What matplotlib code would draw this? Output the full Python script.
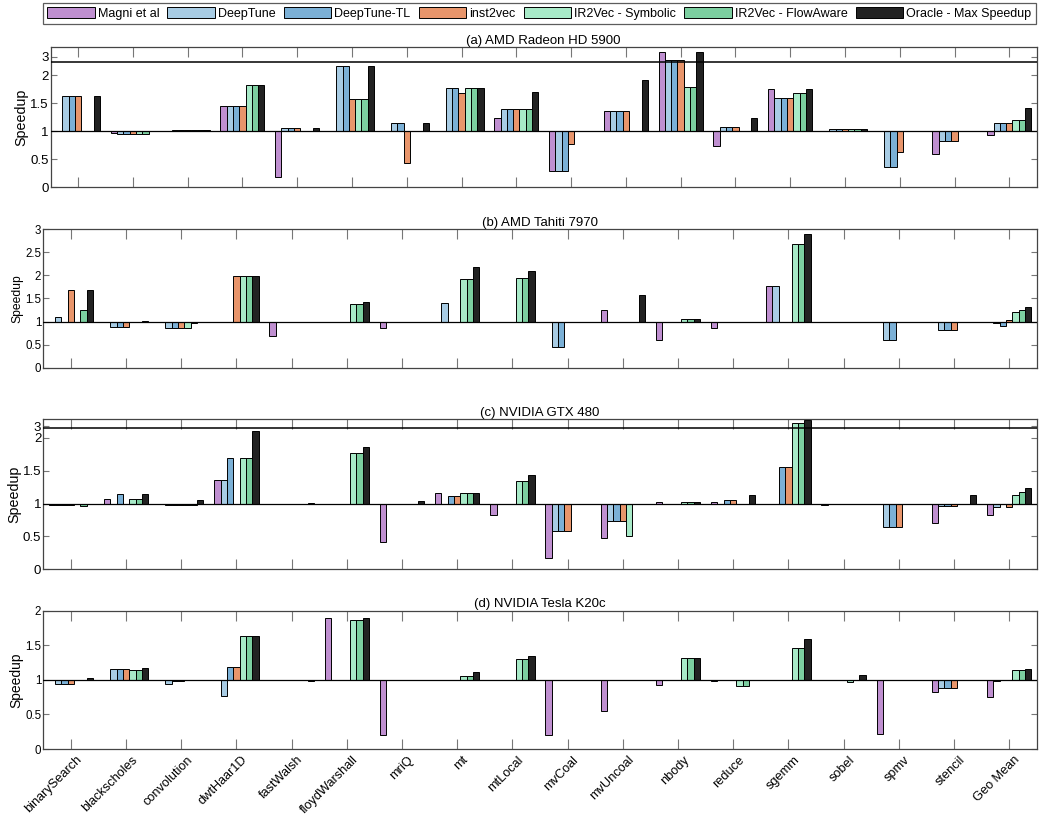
import numpy as np
import matplotlib
matplotlib.use('Agg')
import matplotlib.pyplot as plt
from matplotlib.transforms import ScaledTranslation

plt.rcParams['font.family'] = ['Liberation Sans', 'DejaVu Sans']

# kategoriler ve seriler
kernels = ['binarySearch', 'blackscholes', 'convolution', 'dwtHaar1D', 'fastWalsh',
           'floydWarshall', 'mriQ', 'mt', 'mtLocal', 'mvCoal', 'mvUncoal', 'nbody',
           'reduce', 'sgemm', 'sobel', 'spmv', 'stencil', 'Geo Mean']
methods = ['Magni et al', 'DeepTune', 'DeepTune-TL', 'inst2vec',
           'IR2Vec - Symbolic', 'IR2Vec - FlowAware', 'Oracle - Max Speedup']
colors = ['#bf8fd0', '#a8cce4', '#7bb0d6', '#e8956b', '#a8eac8', '#7ccfa0', '#222222']

# (a) AMD Radeon HD 5900 - her satir bir yontem
amd5900_magni  = [1.00, 0.97, 1.00, 1.46, 0.18, 1.00, 1.00, 1.00, 1.24, 0.30, 1.36, 3.09, 0.74, 1.76, 1.00, 1.00, 0.60, 0.93]
amd5900_dt     = [1.63, 0.96, 1.03, 1.46, 1.06, 2.17, 1.14, 1.77, 1.39, 0.30, 1.36, 2.94, 1.08, 1.59, 1.05, 0.36, 0.82, 1.14]
amd5900_dttl   = [1.63, 0.96, 1.03, 1.46, 1.06, 2.17, 1.14, 1.77, 1.39, 0.30, 1.36, 2.94, 1.08, 1.59, 1.05, 0.36, 0.82, 1.14]
amd5900_inst   = [1.63, 0.96, 1.03, 1.46, 1.06, 1.58, 0.44, 1.68, 1.39, 0.77, 1.36, 2.94, 1.08, 1.59, 1.04, 0.63, 0.82, 1.15]
amd5900_sym    = [1.00, 0.96, 1.03, 1.83, 1.00, 1.58, 1.00, 1.77, 1.39, 1.00, 1.00, 1.80, 1.00, 1.69, 1.04, 1.00, 1.00, 1.20]
amd5900_flow   = [1.00, 0.96, 1.03, 1.83, 1.00, 1.58, 1.00, 1.77, 1.39, 1.00, 1.00, 1.80, 1.00, 1.69, 1.04, 1.00, 1.00, 1.20]
amd5900_oracle = [1.63, 1.00, 1.03, 1.83, 1.06, 2.17, 1.14, 1.77, 1.71, 1.00, 1.92, 3.09, 1.23, 1.76, 1.05, 1.00, 1.00, 1.41]

# (b) AMD Tahiti 7970
tahiti_magni  = [1.00, 1.00, 1.00, 1.00, 0.68, 1.00, 0.85, 1.00, 1.00, 1.00, 1.26, 0.61, 0.85, 1.78, 1.00, 1.00, 1.00, 0.98]
tahiti_dt     = [1.10, 0.88, 0.86, 1.00, 0.98, 1.00, 0.98, 1.40, 1.00, 0.45, 1.00, 0.98, 1.00, 1.78, 1.00, 0.61, 0.81, 0.96]
tahiti_dttl   = [1.00, 0.88, 0.86, 1.00, 0.98, 1.00, 0.98, 1.00, 1.00, 0.45, 1.00, 0.98, 1.00, 1.00, 1.00, 0.61, 0.81, 0.90]
tahiti_inst   = [1.68, 0.88, 0.86, 1.99, 1.00, 1.00, 1.00, 1.00, 1.00, 1.00, 1.00, 0.98, 1.00, 1.00, 1.00, 1.00, 0.81, 1.03]
tahiti_sym    = [1.00, 1.00, 0.86, 1.99, 1.00, 1.38, 1.00, 1.92, 1.95, 1.00, 1.00, 1.05, 1.00, 2.68, 1.00, 1.00, 1.00, 1.21]
tahiti_flow   = [1.25, 1.00, 0.97, 1.99, 0.98, 1.38, 1.00, 1.92, 1.95, 1.00, 1.00, 1.05, 1.00, 2.68, 1.00, 1.00, 1.00, 1.24]
tahiti_oracle = [1.68, 1.01, 1.00, 1.99, 0.98, 1.42, 1.00, 2.18, 2.10, 1.00, 1.58, 1.05, 1.00, 2.89, 1.00, 1.00, 1.00, 1.32]

# (c) NVIDIA GTX 480
gtx_magni  = [0.98, 1.07, 1.00, 1.36, 1.00, 1.00, 0.41, 1.16, 0.82, 0.17, 0.48, 1.02, 1.03, 1.00, 0.98, 1.00, 0.71, 0.82]
gtx_dt     = [0.98, 1.00, 0.98, 1.36, 1.00, 1.00, 1.00, 1.00, 1.00, 0.58, 0.73, 1.00, 1.00, 1.00, 0.99, 0.64, 0.96, 0.94]
gtx_dttl   = [0.98, 1.15, 0.98, 1.69, 1.00, 1.00, 1.00, 1.12, 1.00, 0.58, 0.73, 1.00, 1.06, 1.56, 0.99, 0.64, 0.96, 1.00]
gtx_inst   = [0.98, 1.00, 0.98, 1.00, 1.00, 1.00, 1.00, 1.12, 1.00, 0.58, 0.73, 1.00, 1.06, 1.56, 0.99, 0.64, 0.96, 0.95]
gtx_sym    = [1.00, 1.07, 0.98, 1.69, 1.00, 1.77, 1.00, 1.16, 1.35, 1.00, 0.50, 1.02, 1.00, 3.05, 0.99, 1.00, 1.00, 1.13]
gtx_flow   = [0.96, 1.07, 0.98, 1.69, 1.00, 1.77, 1.00, 1.16, 1.35, 1.00, 1.00, 1.02, 1.00, 3.05, 0.99, 1.00, 1.00, 1.18]
gtx_oracle = [1.00, 1.15, 1.06, 2.11, 1.01, 1.86, 1.04, 1.16, 1.43, 1.00, 1.00, 1.02, 1.13, 3.09, 0.99, 1.00, 1.13, 1.24]

# (d) NVIDIA Tesla K20c
k20_magni  = [1.00, 1.00, 1.00, 1.00, 1.00, 1.89, 0.20, 1.00, 1.00, 0.20, 0.55, 0.92, 0.98, 1.00, 1.00, 0.21, 0.83, 0.75]
k20_dt     = [0.935, 1.16, 0.94, 0.76, 1.00, 1.00, 1.00, 1.00, 1.00, 1.00, 1.00, 1.00, 1.00, 1.00, 1.00, 1.00, 0.88, 0.98]
k20_dttl   = [0.935, 1.16, 0.99, 1.18, 1.00, 1.00, 1.00, 1.00, 1.00, 1.00, 1.00, 1.00, 1.00, 1.00, 1.00, 1.00, 0.88, 1.00]
k20_inst   = [0.935, 1.16, 0.99, 1.18, 1.00, 1.00, 1.00, 1.00, 1.00, 1.00, 1.00, 1.00, 1.00, 1.00, 1.00, 1.00, 0.88, 1.00]
k20_sym    = [1.00, 1.14, 1.00, 1.63, 1.00, 1.87, 1.00, 1.06, 1.30, 1.00, 1.00, 1.32, 0.91, 1.46, 0.97, 1.00, 1.00, 1.14]
k20_flow   = [1.00, 1.14, 1.00, 1.63, 1.00, 1.87, 1.00, 1.06, 1.30, 1.00, 1.00, 1.32, 0.91, 1.46, 1.00, 1.00, 1.00, 1.14]
k20_oracle = [1.02, 1.17, 1.00, 1.63, 0.99, 1.89, 1.00, 1.11, 1.34, 1.00, 1.00, 1.32, 1.00, 1.59, 1.07, 1.00, 1.00, 1.16]

panels = [
    ('(a) AMD Radeon HD 5900', [amd5900_magni, amd5900_dt, amd5900_dttl, amd5900_inst, amd5900_sym, amd5900_flow, amd5900_oracle]),
    ('(b) AMD Tahiti 7970', [tahiti_magni, tahiti_dt, tahiti_dttl, tahiti_inst, tahiti_sym, tahiti_flow, tahiti_oracle]),
    ('(c) NVIDIA GTX 480', [gtx_magni, gtx_dt, gtx_dttl, gtx_inst, gtx_sym, gtx_flow, gtx_oracle]),
    ('(d) NVIDIA Tesla K20c', [k20_magni, k20_dt, k20_dttl, k20_inst, k20_sym, k20_flow, k20_oracle]),
]

# eksen kirilmasi (alt, ust) - None ise kirilma yok
breaks = [(2.23, 2.90), None, (2.15, 2.974), None]
ylims = [(0, 3.17), (0, 3), (0, 3.11), (0, 2)]
yticks = [[0, 0.5, 1, 1.5, 2, 3], [0, 0.5, 1, 1.5, 2, 2.5, 3], [0, 0.5, 1, 1.5, 2, 3], [0, 0.5, 1, 1.5, 2]]
# piksel olarak eksen kutulari: sol, sag, ust, alt
boxes = [(50.7, 1036.7, 47.3, 187.3), (43.3, 1036.7, 229.3, 367.7),
         (43.3, 1036.7, 419.0, 569.3), (43.3, 1036.7, 610.7, 749.0)]
tick_fs = [9.5, 8.3, 9.5, 8.3]
label_fs = [10.3, 8.7, 10.3, 10.0]


def break_scale(lo, hi):
    gap = hi - lo

    def fwd(y):
        y = np.asarray(y, float)
        return np.where(y <= lo, y, np.where(y >= hi, y - gap, lo))

    def inv(d):
        d = np.asarray(d, float)
        return np.where(d <= lo, d, d + gap)
    return fwd, inv


W, H = 1050, 815
fig = plt.figure(figsize=(10.5, 8.15), dpi=100)
x = np.arange(1, len(kernels) + 1)
bw = 0.115
handles = []

for p, (title, series) in enumerate(panels):
    l, r, t, b = boxes[p]
    ax = fig.add_axes([l / W, 1 - b / H, (r - l) / W, (b - t) / H])
    if breaks[p] is not None:
        ax.set_yscale('function', functions=break_scale(*breaks[p]))
    for i, vals in enumerate(series):
        vals = np.array(vals)
        h = ax.bar(x + (i - 3) * bw, vals - 1, bottom=1, width=bw, color=colors[i],
                   edgecolor='black', linewidth=0.7, label=methods[i], zorder=2)
        if p == 0:
            handles.append(h)
    ax.axhline(1, color='black', lw=0.9, zorder=3)
    if breaks[p] is not None:
        ax.axhline(breaks[p][0], color='black', lw=1.1, zorder=4)
    ax.set_xlim(0.5, 18.5)
    ax.set_ylim(*ylims[p])
    ax.set_yticks(yticks[p])
    ax.set_yticklabels([f'{v:g}' for v in yticks[p]])
    ax.set_xticks(x)
    ax.tick_params(axis='x', direction='in', length=7.5, width=0.8, color='#777777',
                   top=True, bottom=True)
    ax.tick_params(axis='y', direction='in', length=4, width=0.8, color='#777777',
                   left=True, right=True, labelsize=tick_fs[p], pad=1.5)
    ax.set_ylabel('Speedup', fontsize=label_fs[p], labelpad=1)
    for s in ax.spines.values():
        s.set_color('#444444')
        s.set_linewidth(0.9)
    ax.set_title(title, fontsize=9.5, pad=2.5)
    if p == 3:
        ax.set_xticklabels(kernels, rotation=45, ha='right', va='top',
                           rotation_mode='anchor', fontsize=9.2)
        shift = ScaledTranslation(5 / 100, 0, fig.dpi_scale_trans)
        for lab in ax.get_xticklabels():
            lab.set_transform(lab.get_transform() + shift)
    else:
        ax.set_xticklabels([])

leg = fig.legend(handles, methods, loc='upper left', bbox_to_anchor=(42.7 / W, 1 - 3 / H),
                 ncol=7, fontsize=9, frameon=True, fancybox=False, edgecolor='#333333',
                 handlelength=3.8, handleheight=0.95, handletextpad=0.25, columnspacing=0.65,
                 borderpad=0.35, borderaxespad=0)
leg.get_frame().set_linewidth(0.9)

fig.savefig('out.png', dpi=100)
